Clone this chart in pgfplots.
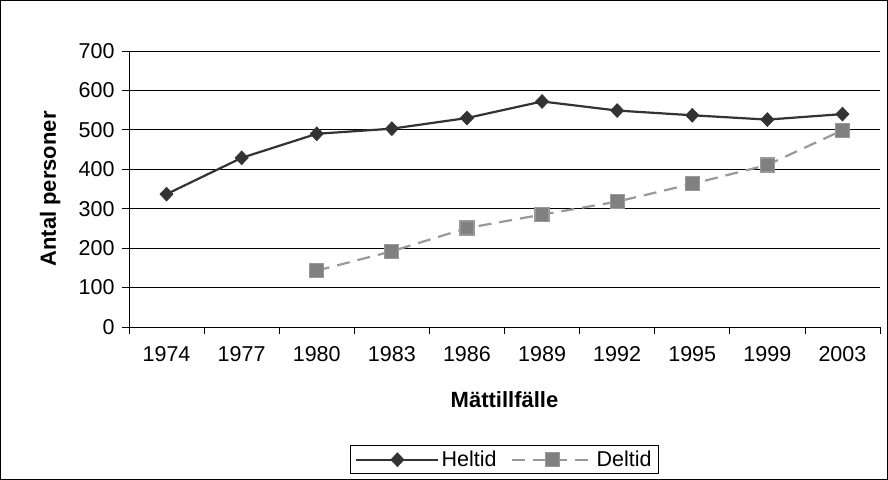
\documentclass[border=0pt]{standalone}
\usepackage{pgfplots}
\pgfplotsset{compat=1.18}
\usepackage{fontspec}
\setmainfont{Liberation Sans}
\definecolor{hel}{HTML}{333333}
\definecolor{delline}{HTML}{999999}
\definecolor{delfill}{HTML}{808080}
\begin{document}
\begin{tikzpicture}
\useasboundingbox (0,0) rectangle (888bp,480bp);
\draw[line width=1bp] (0.5bp,0.5bp) rectangle (887.5bp,479.5bp);
\begin{axis}[
  at={(129bp,153bp)}, anchor=south west,
  scale only axis, width=751bp, height=276bp,
  xmin=-0.5, xmax=9.5, ymin=0, ymax=700,
  axis x line*=bottom, axis y line*=left,
  axis line style={line width=0.8bp, black, -},
  xtick={0,...,9},
  xticklabels={1974,1977,1980,1983,1986,1989,1992,1995,1999,2003},
  minor xtick={-0.5,0.5,...,9.5},
  major x tick style={draw=none},
  minor x tick style={line width=0.8bp, black},
  ytick={0,100,...,700},
  y tick style={line width=0.8bp, black},
  tick align=outside,
  major tick length=7bp, minor tick length=7bp,
  ymajorgrids, grid style={line width=0.8bp, black},
  /pgf/number format/assume math mode=true,
  tick label style={font=\fontsize{21.5bp}{25bp}\selectfont},
  xticklabel style={yshift=-9bp},
  yticklabel style={xshift=-4bp},
  label style={font=\fontsize{22bp}{26bp}\selectfont\bfseries},
  xlabel={Mättillfälle},
  ylabel={Antal personer},
  xlabel style={at={(axis description cs:0.5,-0.2645)}, anchor=center},
  ylabel style={at={(axis description cs:-0.105,0.5)}, anchor=center},
  legend columns=2,
  legend style={at={(0.5,-0.481)}, anchor=center, draw=black, line width=0.8bp,
    font=\fontsize{21.5bp}{25bp}\selectfont, inner xsep=5bp, inner ysep=3.5bp,
    /tikz/every even column/.append style={column sep=12bp}},
  legend image code/.code={\draw[mark repeat=2,mark phase=2] plot coordinates {(0bp,0bp)(41bp,0bp)(82bp,0bp)};},
]
\addplot[hel, line width=2.2bp, mark=diamond*, mark size=7bp, mark options={solid, xscale=1.27, fill=hel, draw=hel, line width=0.5bp}]
coordinates {(0,337)(1,429)(2,490)(3,503)(4,530)(5,572)(6,549)(7,537)(8,526)(9,540)};
\addlegendentry{Heltid}
\addplot[delline, line width=2.2bp, dash pattern=on 13bp off 8bp, mark=square*, mark size=7bp, mark options={solid, fill=delfill, draw=delline, line width=1.2bp}]
coordinates {(2,143)(3,192)(4,251)(5,285)(6,318)(7,363)(8,411)(9,499)};
\addlegendentry{Deltid}
\end{axis}
\end{tikzpicture}
\end{document}
